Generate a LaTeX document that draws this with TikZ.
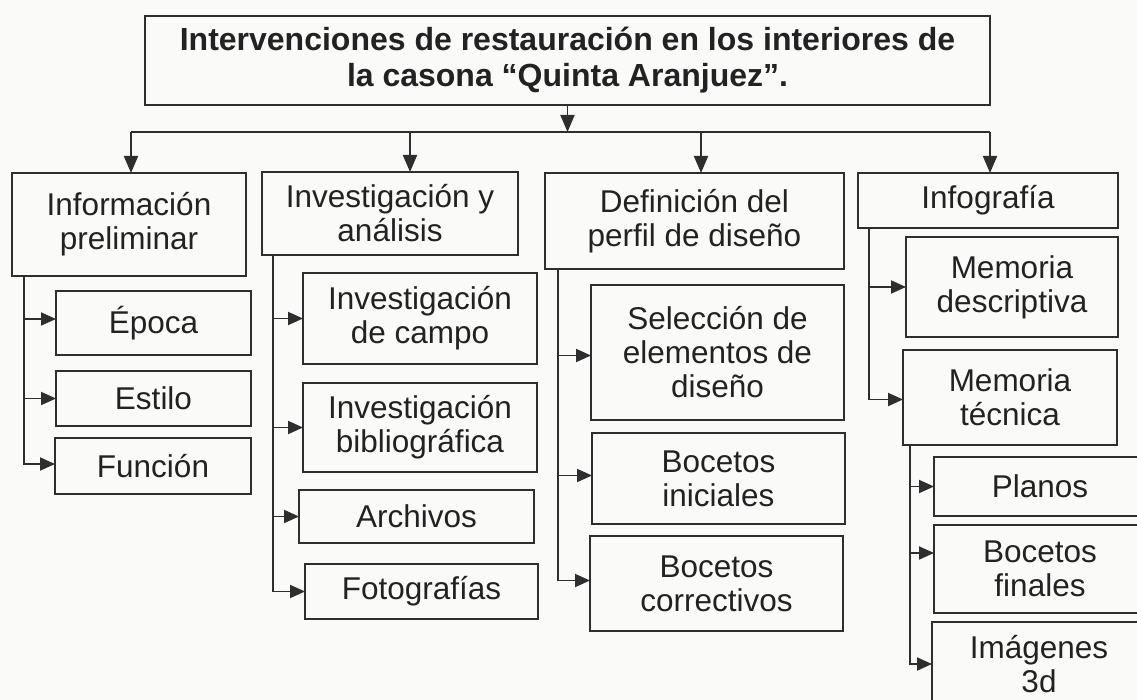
\documentclass[tikz,border=0pt]{standalone}
\usepackage{fontspec}
\setmainfont{Liberation Sans}
\usetikzlibrary{arrows.meta}
\definecolor{ln}{HTML}{2E2E2E}
\definecolor{tx}{HTML}{222222}
\definecolor{bg}{HTML}{FAFBF9}
\begin{document}
\begin{tikzpicture}[x=1pt,y=-1pt,
  box/.style={draw=ln, line width=1.9pt, inner sep=0pt, outer sep=0pt, align=center, anchor=north west, text=tx, font=\fontsize{31.5}{34}\selectfont},
  titlebox/.style={box, font=\bfseries\fontsize{32}{36}\selectfont},
  conn/.style={draw=ln, line width=1.9pt},
  down/.style={conn, -{Triangle[length=17pt,width=14pt]}},
  tip/.style={conn, -{Triangle[length=15pt,width=13pt]}},
]
\fill[bg] (0,0) rectangle (1137,700);
\useasboundingbox (0,0) rectangle (1137,700);

% title
\node[titlebox, minimum width=845pt, minimum height=89pt] (title) at (145,16) {Intervenciones de restauración en los interiores de\\la casona “Quinta Aranjuez”.};

% level 1
\node[box, minimum width=234pt, minimum height=103pt] (b1) at (12,173) {Información\\preliminar};
\node[box, minimum width=256pt, minimum height=83pt] (b2) at (262,172) {Investigación y\\análisis};
\node[box, minimum width=299pt, minimum height=96pt] (b3) at (545,173) {Definición del\\perfil de diseño};
\node[box, minimum width=260pt, minimum height=55pt] (b4) at (858,173) {Infografía};

% column 1
\node[box, minimum width=195pt, minimum height=64pt] (ep) at (56,291) {Época};
\node[box, minimum width=195pt, minimum height=55pt] (es) at (56,371) {Estilo};
\node[box, minimum width=196pt, minimum height=56pt] (fu) at (55,438) {Función};

% column 2
\node[box, minimum width=234pt, minimum height=91pt] (ic) at (303,273) {Investigación\\de campo};
\node[box, minimum width=234pt, minimum height=89pt] (ib) at (303,383) {Investigación\\bibliográfica};
\node[box, minimum width=235pt, minimum height=53pt] (ar) at (299,490) {Archivos};
\node[box, minimum width=233pt, minimum height=55pt] (fo) at (305,564) {Fotografías};

% column 3
\node[box, minimum width=253pt, minimum height=135pt] (se) at (591,285) {Selección de\\elementos de\\diseño};
\node[box, minimum width=253pt, minimum height=91pt] (bi) at (592,433) {Bocetos\\iniciales};
\node[box, minimum width=253pt, minimum height=95pt] (bc) at (590,536) {Bocetos\\correctivos};

% column 4
\node[box, minimum width=212pt, minimum height=100pt] (md) at (906,237) {Memoria\\descriptiva};
\node[box, minimum width=214pt, minimum height=95pt] (mt) at (903,350) {Memoria\\técnica};

% column 5
\node[box, minimum width=212pt, minimum height=59pt] (pl) at (934,457) {Planos};
\node[box, minimum width=212pt, minimum height=88pt] (bf) at (934,525) {Bocetos\\finales};
\node[box, minimum width=214pt, minimum height=84pt] (im) at (932,622) {Imágenes\\3d};

% top connectors
\coordinate (j1) at (131,132);
\coordinate (j2) at (410,132);
\coordinate (j3) at (701,132);
\coordinate (j4) at (990,132);
\draw[down] (title.south) -- (title.south |- j1);
\draw[conn] (j1) -- (j4);
\draw[down] (j1) -- (j1 |- b1.north);
\draw[down] (j2) -- (j2 |- b2.north);
\draw[down] (j3) -- (j3 |- b3.north);
\draw[down] (j4) -- (j4 |- b4.north);

% trunks
\coordinate (t1) at (24,0);
\coordinate (t2) at (273,0);
\coordinate (t3) at (558,0);
\coordinate (t4) at (869,0);
\coordinate (t5) at (910,0);

\draw[tip] (t1 |- b1.south) |- ([yshift=2pt]fu.west);
\draw[tip] ([yshift=4pt]ep.west -| t1) -- ([yshift=4pt]ep.west);
\draw[tip] (es.west -| t1) -- (es.west);

\draw[tip] (t2 |- b2.south) |- (fo.west);
\draw[tip] (ic.west -| t2) -- (ic.west);
\draw[tip] (ib.west -| t2) -- (ib.west);
\draw[tip] (ar.west -| t2) -- (ar.west);

\draw[tip] (t3 |- b3.south) |- ([yshift=3pt]bc.west);
\draw[tip] ([yshift=-3pt]se.west -| t3) -- ([yshift=-3pt]se.west);
\draw[tip] ([yshift=3pt]bi.west -| t3) -- ([yshift=3pt]bi.west);

\draw[tip] (t4 |- b4.south) |- ([yshift=-2pt]mt.west);
\draw[tip] (md.west -| t4) -- (md.west);

\draw[tip] (t5 |- mt.south) |- (im.west);
\draw[tip] (pl.west -| t5) -- (pl.west);
\draw[tip] ([yshift=16pt]bf.west -| t5) -- ([yshift=16pt]bf.west);
\end{tikzpicture}
\end{document}
